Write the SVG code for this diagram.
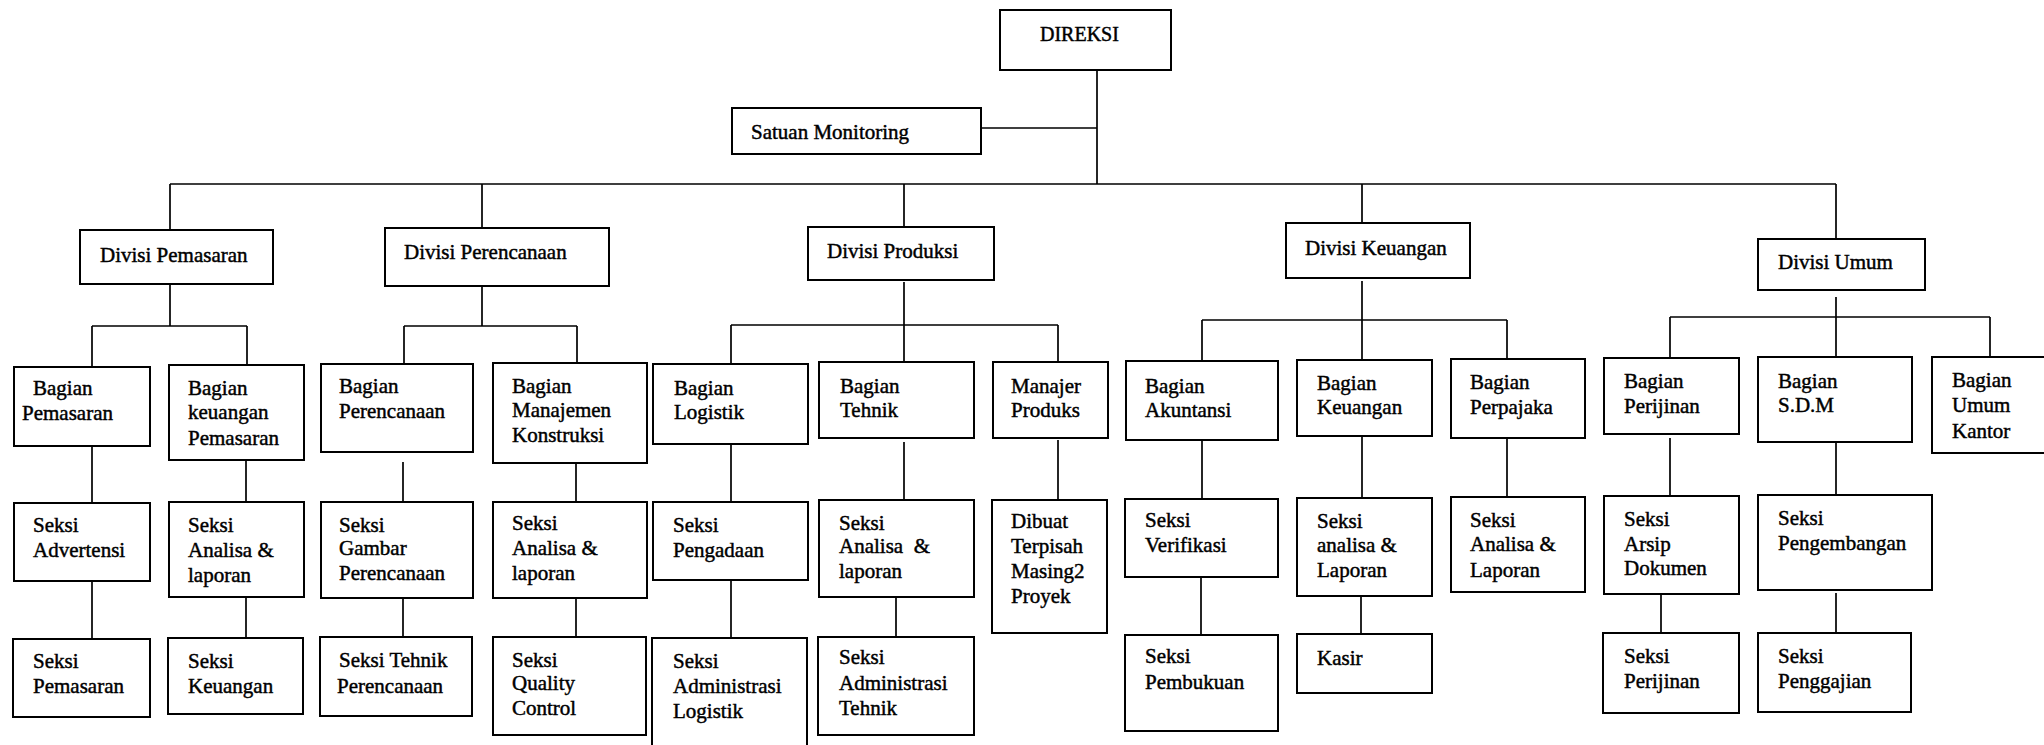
<svg xmlns="http://www.w3.org/2000/svg" width="2044" height="745" viewBox="0 0 2044 745" font-family="'Liberation Serif', 'DejaVu Serif', serif">
  <style>
    .box { fill: #fff; stroke: #000; stroke-width: 2; }
    .ln { fill: none; stroke: #000; stroke-width: 1.7; }
    text { font-family: "Liberation Serif", "DejaVu Serif", serif; font-size: 21px; fill: #000; stroke: #000; stroke-width: 0.45; }
  </style>
  <rect width="2044" height="745" fill="#fff"/>

  <!-- connectors -->
  <g id="connectors" class="ln">
    <path d="M1097,70 V184 M981,128 H1097 M170,184 H1836"/>
    <!-- Divisi Pemasaran -->
    <path d="M170,184 V230 M170,284 V326 M92,326 H247 M92,326 V367 M247,326 V365"/>
    <path d="M92,446 V503 M92,581 V639 M246,460 V502 M246,597 V638"/>
    <!-- Divisi Perencanaan -->
    <path d="M482,184 V228 M482,286 V326 M404,326 H577 M404,326 V364 M577,326 V363"/>
    <path d="M403,462 V502 M403,598 V637 M576,463 V502 M576,598 V637"/>
    <!-- Divisi Produksi -->
    <path d="M904,184 V227 M904,282 V325 M731,325 H1058 M731,325 V364 M904,325 V362 M1058,325 V362"/>
    <path d="M731,444 V502 M731,580 V638 M904,442 V500 M896,597 V637 M1058,440 V500"/>
    <!-- Divisi Keuangan -->
    <path d="M1362,184 V223 M1362,281 V320 M1202,320 H1507 M1202,320 V361 M1362,320 V360 M1507,320 V359"/>
    <path d="M1202,440 V499 M1201,577 V635 M1362,436 V498 M1361,596 V634 M1507,438 V497"/>
    <!-- Divisi Umum -->
    <path d="M1836,184 V239 M1836,297 V317 M1670,317 H1990 M1670,317 V358 M1836,317 V357 M1990,317 V357"/>
    <path d="M1670,438 V496 M1661,594 V633 M1836,442 V495 M1836,593 V633"/>
  </g>

  <!-- top level -->
  <g id="direksi"><rect class="box" x="1000" y="10" width="171" height="60"/><text x="1040" y="41" style="font-size:20px">DIREKSI</text></g>
  <g id="satuan-monitoring"><rect class="box" x="732" y="108" width="249" height="46"/><text x="751" y="139">Satuan Monitoring</text></g>

  <!-- divisions -->
  <g id="divisi-pemasaran"><rect class="box" x="80" y="230" width="193" height="54"/><text x="100" y="262">Divisi Pemasaran</text></g>
  <g id="divisi-perencanaan"><rect class="box" x="385" y="228" width="224" height="58"/><text x="404" y="259">Divisi Perencanaan</text></g>
  <g id="divisi-produksi"><rect class="box" x="808" y="227" width="186" height="53"/><text x="827" y="258">Divisi Produksi</text></g>
  <g id="divisi-keuangan"><rect class="box" x="1286" y="223" width="184" height="55"/><text x="1305" y="255">Divisi Keuangan</text></g>
  <g id="divisi-umum"><rect class="box" x="1758" y="239" width="167" height="51"/><text x="1778" y="269">Divisi Umum</text></g>

  <!-- bagian -->
  <g id="bagian-pemasaran"><rect class="box" x="14" y="367" width="136" height="79"/><text x="33" y="395">Bagian</text><text x="22" y="420">Pemasaran</text></g>
  <g id="bagian-keuangan-pemasaran"><rect class="box" x="169" y="365" width="135" height="95"/><text x="188" y="395">Bagian</text><text x="188" y="419">keuangan</text><text x="188" y="445">Pemasaran</text></g>
  <g id="bagian-perencanaan"><rect class="box" x="321" y="364" width="152" height="88"/><text x="339" y="393">Bagian</text><text x="339" y="418">Perencanaan</text></g>
  <g id="bagian-manajemen-konstruksi"><rect class="box" x="493" y="363" width="154" height="100"/><text x="512" y="393">Bagian</text><text x="512" y="417">Manajemen</text><text x="512" y="442">Konstruksi</text></g>
  <g id="bagian-logistik"><rect class="box" x="653" y="364" width="155" height="80"/><text x="674" y="395">Bagian</text><text x="674" y="419">Logistik</text></g>
  <g id="bagian-tehnik"><rect class="box" x="819" y="362" width="155" height="76"/><text x="840" y="393">Bagian</text><text x="840" y="417">Tehnik</text></g>
  <g id="manajer-produks"><rect class="box" x="993" y="362" width="115" height="76"/><text x="1011" y="393">Manajer</text><text x="1011" y="417">Produks</text></g>
  <g id="bagian-akuntansi"><rect class="box" x="1126" y="361" width="152" height="79"/><text x="1145" y="393">Bagian</text><text x="1145" y="417">Akuntansi</text></g>
  <g id="bagian-keuangan"><rect class="box" x="1297" y="360" width="135" height="76"/><text x="1317" y="390">Bagian</text><text x="1317" y="414">Keuangan</text></g>
  <g id="bagian-perpajaka"><rect class="box" x="1451" y="359" width="134" height="79"/><text x="1470" y="389">Bagian</text><text x="1470" y="414">Perpajaka</text></g>
  <g id="bagian-perijinan"><rect class="box" x="1604" y="358" width="135" height="76"/><text x="1624" y="388">Bagian</text><text x="1624" y="413">Perijinan</text></g>
  <g id="bagian-sdm"><rect class="box" x="1758" y="357" width="154" height="85"/><text x="1778" y="388">Bagian</text><text x="1778" y="412">S.D.M</text></g>
  <g id="bagian-umum-kantor"><rect class="box" x="1932" y="357" width="130" height="96"/><text x="1952" y="387">Bagian</text><text x="1952" y="412">Umum</text><text x="1952" y="438">Kantor</text></g>

  <!-- seksi, first row -->
  <g id="seksi-advertensi"><rect class="box" x="14" y="503" width="136" height="78"/><text x="33" y="532">Seksi</text><text x="33" y="557">Advertensi</text></g>
  <g id="seksi-analisa-pemasaran"><rect class="box" x="169" y="502" width="135" height="95"/><text x="188" y="532">Seksi</text><text x="188" y="557">Analisa &amp;</text><text x="188" y="582">laporan</text></g>
  <g id="seksi-gambar-perencanaan"><rect class="box" x="321" y="502" width="152" height="96"/><text x="339" y="532">Seksi</text><text x="339" y="555">Gambar</text><text x="339" y="580">Perencanaan</text></g>
  <g id="seksi-analisa-konstruksi"><rect class="box" x="493" y="502" width="154" height="96"/><text x="512" y="530">Seksi</text><text x="512" y="555">Analisa &amp;</text><text x="512" y="580">laporan</text></g>
  <g id="seksi-pengadaan"><rect class="box" x="653" y="502" width="155" height="78"/><text x="673" y="532">Seksi</text><text x="673" y="557">Pengadaan</text></g>
  <g id="seksi-analisa-tehnik"><rect class="box" x="819" y="500" width="155" height="97"/><text x="839" y="530">Seksi</text><text x="839" y="553" xml:space="preserve">Analisa  &amp;</text><text x="839" y="578">laporan</text></g>
  <g id="dibuat-terpisah"><rect class="box" x="992" y="500" width="115" height="133"/><text x="1011" y="528">Dibuat</text><text x="1011" y="553">Terpisah</text><text x="1011" y="578">Masing2</text><text x="1011" y="603">Proyek</text></g>
  <g id="seksi-verifikasi"><rect class="box" x="1125" y="499" width="153" height="78"/><text x="1145" y="527">Seksi</text><text x="1145" y="552">Verifikasi</text></g>
  <g id="seksi-analisa-keuangan"><rect class="box" x="1297" y="498" width="135" height="98"/><text x="1317" y="528">Seksi</text><text x="1317" y="552">analisa &amp;</text><text x="1317" y="577">Laporan</text></g>
  <g id="seksi-analisa-perpajakan"><rect class="box" x="1451" y="497" width="134" height="95"/><text x="1470" y="527">Seksi</text><text x="1470" y="551">Analisa &amp;</text><text x="1470" y="577">Laporan</text></g>
  <g id="seksi-arsip-dokumen"><rect class="box" x="1604" y="496" width="135" height="98"/><text x="1624" y="526">Seksi</text><text x="1624" y="551">Arsip</text><text x="1624" y="575">Dokumen</text></g>
  <g id="seksi-pengembangan"><rect class="box" x="1758" y="495" width="174" height="95"/><text x="1778" y="525">Seksi</text><text x="1778" y="550">Pengembangan</text></g>

  <!-- seksi, second row -->
  <g id="seksi-pemasaran"><rect class="box" x="13" y="639" width="137" height="78"/><text x="33" y="668">Seksi</text><text x="33" y="693">Pemasaran</text></g>
  <g id="seksi-keuangan"><rect class="box" x="168" y="638" width="135" height="76"/><text x="188" y="668">Seksi</text><text x="188" y="693">Keuangan</text></g>
  <g id="seksi-tehnik-perencanaan"><rect class="box" x="320" y="637" width="152" height="79"/><text x="339" y="667">Seksi Tehnik</text><text x="337" y="693">Perencanaan</text></g>
  <g id="seksi-quality-control"><rect class="box" x="493" y="637" width="153" height="98"/><text x="512" y="667">Seksi</text><text x="512" y="690">Quality</text><text x="512" y="715">Control</text></g>
  <g id="seksi-administrasi-logistik"><rect class="box" x="652" y="638" width="155" height="130"/><text x="673" y="668">Seksi</text><text x="673" y="693">Administrasi</text><text x="673" y="718">Logistik</text></g>
  <g id="seksi-administrasi-tehnik"><rect class="box" x="818" y="637" width="156" height="98"/><text x="839" y="664">Seksi</text><text x="839" y="690">Administrasi</text><text x="839" y="715">Tehnik</text></g>
  <g id="seksi-pembukuan"><rect class="box" x="1125" y="635" width="153" height="96"/><text x="1145" y="663">Seksi</text><text x="1145" y="689">Pembukuan</text></g>
  <g id="kasir"><rect class="box" x="1297" y="634" width="135" height="59"/><text x="1317" y="665">Kasir</text></g>
  <g id="seksi-perijinan"><rect class="box" x="1603" y="633" width="136" height="80"/><text x="1624" y="663">Seksi</text><text x="1624" y="688">Perijinan</text></g>
  <g id="seksi-penggajian"><rect class="box" x="1758" y="633" width="153" height="79"/><text x="1778" y="663">Seksi</text><text x="1778" y="688">Penggajian</text></g>
</svg>
